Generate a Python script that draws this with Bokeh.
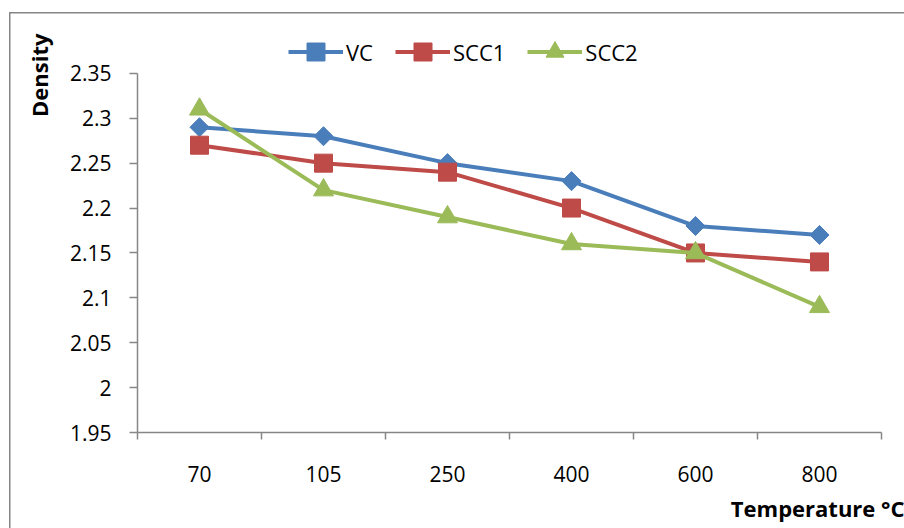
import math
from bokeh.plotting import figure
from bokeh.models import (Range1d, FixedTicker, NumeralTickFormatter, CustomJSTickFormatter,
                          Legend, LegendItem, Title, ColumnDataSource)
from bokeh.embed import file_html
from bokeh.resources import INLINE

categories = ["70", "105", "250", "400", "600", "800"]
vc = [2.29, 2.28, 2.25, 2.23, 2.18, 2.17]
scc1 = [2.27, 2.25, 2.24, 2.20, 2.15, 2.14]
scc2 = [2.31, 2.22, 2.19, 2.16, 2.15, 2.09]
y_ticks = [1.95, 2.0, 2.05, 2.1, 2.15, 2.2, 2.25, 2.3, 2.35]

FONT = "Open Sans"
AXIS_COLOR = "#868686"

border_css = ("linear-gradient(#868686,#868686) 9px 12px / 1.5px 100% no-repeat, "
              "linear-gradient(#868686,#868686) 9px 12px / 100% 1.5px no-repeat, white")

# plot-area geometry: frame spans from y=30 to y=433 px, x=137 to 904 px;
# the value axis covers 1.95..2.35 over 360 px, each category is 124 px wide
FRAME_TOP, FRAME_BOTTOM, FRAME_LEFT = 26, 433, 137
y0, y1 = y_ticks[0], y_ticks[-1]
px_per_unit = 360 / (y1 - y0)
y_end = y0 + (FRAME_BOTTOM - FRAME_TOP) / px_per_unit
x_end = (904 - FRAME_LEFT) / 124

p = figure(width=904, height=528, output_backend="svg", toolbar_location=None,
           x_range=Range1d(0, x_end), y_range=Range1d(y0, y_end),
           min_border_left=FRAME_LEFT, min_border_right=0, min_border_top=FRAME_TOP,
           min_border_bottom=528 - FRAME_BOTTOM,
           styles={"background": border_css})
p.title = None
p.border_fill_color = None
p.background_fill_color = None
p.outline_line_color = None
p.xgrid.grid_line_color = None
p.ygrid.grid_line_color = None

xs = [i + 0.5 for i in range(len(categories))]

# axes
xa = p.xaxis[0]
xa.bounds = (0, len(categories))
xa.ticker = FixedTicker(ticks=xs, minor_ticks=list(range(len(categories) + 1)))
xa.formatter = CustomJSTickFormatter(args=dict(labels=categories),
                                     code="return labels[Math.floor(tick)];")
xa.major_tick_out = 0
xa.major_tick_in = 0
xa.minor_tick_out = 7
xa.minor_tick_in = 0
xa.minor_tick_line_color = AXIS_COLOR
xa.minor_tick_line_width = 1.5
xa.axis_line_color = AXIS_COLOR
xa.axis_line_width = 1.5
xa.major_label_standoff = 26
xa.major_label_text_font = FONT
xa.major_label_text_font_size = "21px"
xa.major_label_text_color = "black"

ya = p.yaxis[0]
ya.bounds = (y0, y1)
ya.ticker = FixedTicker(ticks=y_ticks, minor_ticks=[])
ya.formatter = NumeralTickFormatter(format="0.[00]")
ya.major_tick_out = 8
ya.major_tick_in = 0
ya.major_tick_line_color = AXIS_COLOR
ya.major_tick_line_width = 1.5
ya.minor_tick_line_color = None
ya.axis_line_color = AXIS_COLOR
ya.axis_line_width = 1.5
ya.major_label_standoff = 18
ya.major_label_text_font = FONT
ya.major_label_text_font_size = "21px"
ya.major_label_text_color = "black"

series = [
    ("VC", vc, "#4A7EBB", "square", math.pi / 4, 13.5),
    ("SCC1", scc1, "#BE4B48", "square", 0, 18),
    ("SCC2", scc2, "#9BBB59", "triangle", 0, 20),
]
items = []
for name, vals, color, marker, ang, size in series:
    src = ColumnDataSource(dict(x=xs, y=vals))
    r1 = p.line("x", "y", source=src, line_color=color, line_width=4)
    r2 = p.scatter("x", "y", source=src, marker=marker, angle=ang, size=size,
                   fill_color=color, line_color=color)
    items.append(LegendItem(label=name, renderers=[r1, r2]))

legend = Legend(items=items, orientation="horizontal", location=(151, 358),
                glyph_width=55, glyph_height=45, label_standoff=3, spacing=22,
                padding=0, margin=0, border_line_color=None, background_fill_alpha=0,
                label_text_font=FONT, label_text_font_size="22px",
                label_text_color="black")
p.add_layout(legend, "center")

t_y = Title(text="Density", align="right", offset=7,
            text_font=FONT, text_font_style="bold", text_font_size="22px",
            text_color="black")
t_x = Title(text="Temperature °C", align="right",
            text_font=FONT, text_font_style="bold", text_font_size="22px",
            text_color="black")
try:
    t_y.standoff = 26
    t_x.standoff = 12
except Exception:
    pass
p.add_layout(t_y, "left")
p.add_layout(t_x, "below")

open("out.html", "w").write(file_html(p, INLINE))
